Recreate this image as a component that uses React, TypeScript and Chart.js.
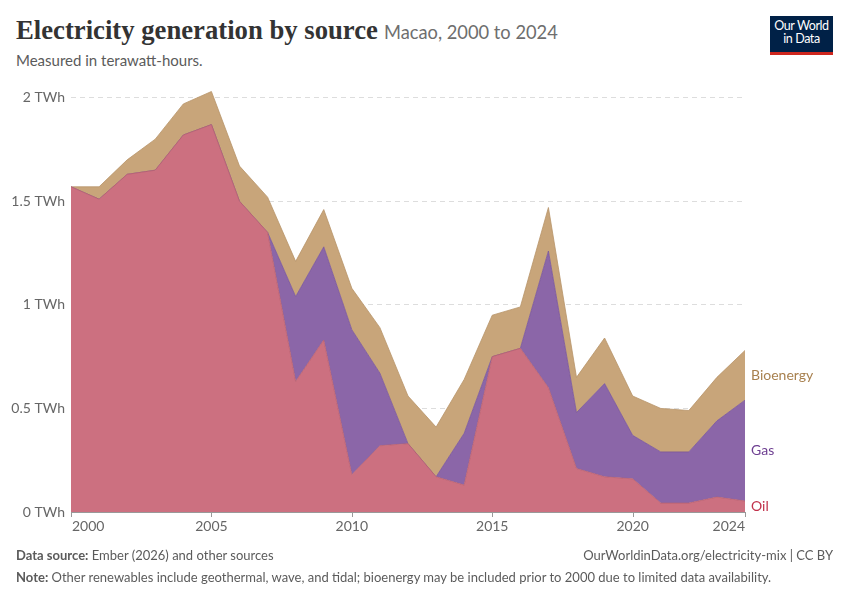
import { useEffect, useRef } from 'react'
import { Chart, registerables } from 'chart.js'

Chart.register(...registerables)

const years = [
  '2000', '2001', '2002', '2003', '2004', '2005', '2006', '2007', '2008', '2009', '2010', '2011', '2012',
  '2013', '2014', '2015', '2016', '2017', '2018', '2019', '2020', '2021', '2022', '2023', '2024',
]
const oil = [
  1.57, 1.51, 1.63, 1.65, 1.82, 1.87, 1.5, 1.35, 0.63, 0.83, 0.18, 0.32, 0.33, 0.17, 0.13, 0.75, 0.79, 0.6, 0.21,
  0.17, 0.16, 0.043, 0.043, 0.072, 0.053,
]
const gas = [
  0, 0, 0, 0, 0, 0, 0, 0, 0.41, 0.45, 0.7, 0.35, 0, 0, 0.25, 0, 0, 0.66, 0.27, 0.45, 0.21, 0.247, 0.247, 0.368, 0.487,
]
const bioenergy = [
  0, 0.06, 0.07, 0.15, 0.15, 0.16, 0.17, 0.17, 0.17, 0.18, 0.2, 0.22, 0.23, 0.24, 0.26, 0.2, 0.2, 0.21, 0.17, 0.22,
  0.19, 0.21, 0.2, 0.21, 0.24,
]
const yTicks = [0, 0.5, 1, 1.5, 2]
const xTicks = ['2000', '2005', '2010', '2015', '2020', '2024']

const series = [
  { label: 'Oil', data: oil, fill: '#cc7080', stroke: '#b8606f', text: '#c0304a' },
  { label: 'Gas', data: gas, fill: '#8b66a8', stroke: '#7a5797', text: '#6d3e91' },
  { label: 'Bioenergy', data: bioenergy, fill: '#c8a57a', stroke: '#b8946a', text: '#a8814f' },
]

const FONT = 'Lato, "Noto Sans", sans-serif'

const axisPlugin = {
  id: 'owidAxes',
  afterDatasetsDraw(chart: Chart) {
    const { ctx, chartArea } = chart
    const x = chart.scales.x
    const y = chart.scales.y
    ctx.save()
    // y labels
    ctx.font = `14px ${FONT}`
    ctx.fillStyle = '#666'
    ctx.textAlign = 'right'
    ctx.textBaseline = 'middle'
    yTicks.forEach((v) => {
      ctx.fillText(`${v} TWh`, 65, y.getPixelForValue(v))
    })
    // bottom axis line + ticks
    const y0 = y.getPixelForValue(0)
    ctx.strokeStyle = '#999'
    ctx.lineWidth = 1
    ctx.beginPath()
    ctx.moveTo(chartArea.left, y0 + 0.5)
    ctx.lineTo(chartArea.right, y0 + 0.5)
    xTicks.forEach((t) => {
      const px = Math.round(x.getPixelForValue(years.indexOf(t))) + 0.5
      ctx.moveTo(px, y0)
      ctx.lineTo(px, y0 + 5)
    })
    ctx.stroke()
    ctx.textBaseline = 'top'
    xTicks.forEach((t, i) => {
      const px = x.getPixelForValue(years.indexOf(t))
      ctx.textAlign = i === 0 ? 'left' : i === xTicks.length - 1 ? 'right' : 'center'
      ctx.fillText(t, i === 0 ? px + 1 : px, y0 + 7)
    })
    // series labels at the right end
    const last = years.length - 1
    let base = 0
    ctx.textAlign = 'left'
    ctx.textBaseline = 'middle'
    series.forEach((s) => {
      const v = s.data[last]
      const mid = y.getPixelForValue(base + v / 2)
      base += v
      ctx.fillStyle = s.text
      ctx.fillText(s.label, chartArea.right + 6, Math.min(mid, y0 - 6))
    })
    ctx.restore()
  },
}

export default function App() {
  const canvasRef = useRef<HTMLCanvasElement>(null)

  useEffect(() => {
    document.body.style.margin = '0'
    if (!canvasRef.current) return
    const chart = new Chart(canvasRef.current, {
      type: 'line',
      data: {
        labels: years,
        datasets: series.map((s, i) => ({
          label: s.label,
          data: s.data,
          backgroundColor: s.fill,
          borderColor: s.stroke,
          borderWidth: 0.8,
          pointRadius: 0,
          tension: 0,
          fill: i === 0 ? 'origin' : '-1',
        })),
      },
      options: {
        responsive: false,
        animation: false,
        layout: { padding: { left: 71, right: 105, top: 77, bottom: 88 } },
        plugins: { legend: { display: false }, tooltip: { enabled: false } },
        scales: {
          x: {
            type: 'category',
            offset: false,
            grid: { display: false },
            border: { display: false },
            ticks: { display: false },
            afterFit: (s) => {
              s.height = 0
            },
          },
          y: {
            stacked: true,
            min: 0,
            max: 2.1,
            afterBuildTicks: (s) => {
              s.ticks = yTicks.map((v) => ({ value: v }))
            },
            grid: {
              color: (c) => (c.tick && c.tick.value === 0 ? 'rgba(0,0,0,0)' : '#dddddd'),
              drawTicks: false,
              z: -1,
            },
            border: { display: false, dash: [5, 4] },
            ticks: { display: false },
            afterFit: (s) => {
              s.width = 0
            },
          },
        },
      },
      plugins: [axisPlugin],
    })
    return () => chart.destroy()
  }, [])

  return (
    <div style={{ position: 'relative', width: 850, height: 600, background: '#fff', fontFamily: FONT }}>
      <div style={{ position: 'absolute', left: 16, top: 15, whiteSpace: 'nowrap' }}>
        <span
          style={{
            fontFamily: '"Liberation Serif", "DejaVu Serif", serif',
            fontWeight: 'bold',
            fontSize: 26.7,
            color: '#333',
          }}
        >
          Electricity generation by source
        </span>
        <span style={{ fontSize: 18.3, color: '#6e6e6e', marginLeft: 6 }}>Macao, 2000 to 2024</span>
      </div>
      <div style={{ position: 'absolute', left: 16, top: 51, fontSize: 15, color: '#5b5b5b' }}>
        Measured in terawatt-hours.
      </div>
      <div
        style={{
          position: 'absolute',
          left: 770,
          top: 16,
          width: 63,
          height: 33,
          background: '#002147',
          borderBottom: '3px solid #ce261e',
          color: '#fff',
          fontSize: 12.5,
          lineHeight: '13px',
          textAlign: 'center',
          paddingTop: 3,
          boxSizing: 'content-box',
          letterSpacing: -0.4,
        }}
      >
        Our World
        <br />
        in Data
      </div>
      <canvas ref={canvasRef} width={850} height={600} style={{ position: 'absolute', left: 0, top: 0 }} />
      <div style={{ position: 'absolute', left: 16, top: 547, fontSize: 13, color: '#5b5b5b' }}>
        <b>Data source:</b> Ember (2026) and other sources
      </div>
      <div style={{ position: 'absolute', right: 17, top: 547, fontSize: 13, color: '#5b5b5b' }}>
        OurWorldinData.org/electricity-mix | CC BY
      </div>
      <div style={{ position: 'absolute', left: 16, top: 569, fontSize: 13, color: '#5b5b5b' }}>
        <b>Note:</b> Other renewables include geothermal, wave, and tidal; bioenergy may be included prior to 2000 due
        to limited data availability.
      </div>
    </div>
  )
}
